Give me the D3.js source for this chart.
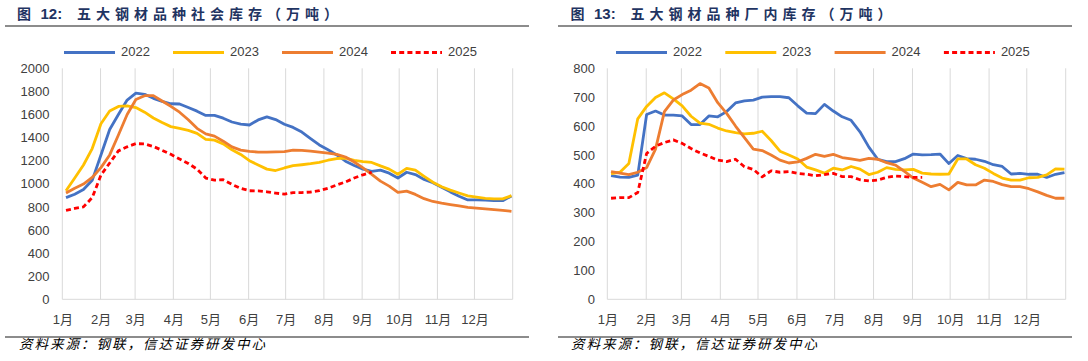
<!DOCTYPE html>
<html><head><meta charset="utf-8">
<script src="https://cdn.jsdelivr.net/npm/d3@7"></script>
<style>
html,body{margin:0;padding:0;background:#fff;}
svg{display:block;}
</style></head>
<body><svg id="c" width="1088" height="361"></svg>
<script>
const months = ["1月","2月","3月","4月","5月","6月","7月","8月","9月","10月","11月","12月"];
const years = ["2022","2023","2024","2025"];
const socialTicks = [0,200,400,600,800,1000,1200,1400,1600,1800,2000];
const factoryTicks = [0,100,200,300,400,500,600,700,800];

// 五大钢材品种社会库存（万吨），weekly
const social2022 = [880,910,950,1030,1250,1470,1600,1725,1785,1775,1740,1714,1693,1691,1660,1629,1592,1593,1568,1535,1517,1509,1553,1580,1556,1516,1488,1448,1392,1336,1294,1250,1196,1158,1127,1108,1118,1092,1050,1100,1080,1038,1010,970,930,893,860,860,858,854,854,895];
const social2023 = [940,1050,1163,1305,1520,1630,1670,1675,1660,1620,1570,1530,1495,1479,1462,1436,1385,1378,1345,1294,1254,1200,1163,1127,1115,1137,1157,1165,1174,1185,1204,1219,1222,1203,1192,1185,1155,1127,1083,1133,1118,1065,1014,975,945,920,896,884,873,869,869,898];
const social2024 = [920,962,998,1055,1140,1250,1423,1600,1730,1763,1763,1717,1671,1620,1555,1480,1432,1413,1369,1320,1292,1280,1275,1274,1276,1279,1292,1289,1282,1274,1266,1255,1232,1189,1138,1082,1023,980,925,937,908,871,847,832,820,808,796,790,783,777,770,762];
const social2025 = [770,787,800,880,1075,1180,1285,1320,1348,1345,1323,1290,1255,1215,1176,1127,1050,1032,1035,995,960,940,938,931,920,910,924,924,929,940,962,990,1016,1050,1078,1100];

// 五大钢材品种厂内库存（万吨），weekly
const factory2022 = [428,423,422,430,640,652,638,638,635,605,605,635,632,650,680,687,690,700,702,702,698,670,645,643,675,652,632,620,580,527,485,477,477,487,503,500,501,503,470,498,487,485,478,466,460,434,436,433,433,422,433,439];
const factory2023 = [435,440,470,625,668,699,715,694,670,634,610,606,593,583,577,573,575,582,550,513,500,486,458,448,437,454,448,460,451,432,440,456,450,448,450,437,434,433,434,486,486,466,454,436,420,413,413,421,422,431,452,451];
const factory2024 = [442,437,432,440,456,520,650,690,709,724,747,732,681,644,600,560,520,515,500,482,472,476,488,502,495,502,491,486,481,488,485,473,465,443,420,405,390,398,379,405,396,396,413,408,397,390,390,383,372,360,350,350];
const factory2025 = [350,352,352,370,505,530,543,552,540,522,507,495,482,477,485,459,450,424,445,440,442,436,433,428,432,436,425,425,414,410,413,422,427,425,422,422];

const colors = {"2022":"#4472C4","2023":"#FFC000","2024":"#ED7D31","2025":"#FF0000"};

const svg = d3.select("#c");
const FONT = "'Liberation Sans', Arial, 'Noto Sans CJK SC', sans-serif";
const CJK = "'Noto Sans CJK SC', 'Liberation Sans', sans-serif";

function drawChart(cfg){
  const g = svg.append("g");
  const top = 68.3, bottom = 299.3;
  const tc = "#1f3462";
  // title pieces
  const t = g.append("g").attr("fill", tc).attr("font-weight","bold").attr("font-size",14);
  t.append("text").attr("x", cfg.titleX).attr("y", 15.5).attr("dominant-baseline","middle")
    .attr("font-family", CJK).text("图");
  t.append("text").attr("x", cfg.titleX + 23.5).attr("y", 15.5).attr("dominant-baseline","middle")
    .attr("font-family", FONT).attr("font-size",15).text(cfg.figNo + ":");
  t.append("text").attr("x", cfg.titleX + 60).attr("y", 15.5).attr("dominant-baseline","middle")
    .attr("font-family", CJK).attr("letter-spacing", 5).text(cfg.title);
  g.append("line").attr("x1",cfg.ruleX[0]).attr("x2",cfg.ruleX[1])
    .attr("y1",26).attr("y2",26).attr("stroke","#1a1a1a").attr("stroke-width",1.2);

  const x = d3.scaleTime()
    .domain([new Date(2025,0,1), new Date(2026,0,1)])
    .range([cfg.left, cfg.right]);
  const xw = d3.scaleLinear().domain([0,51])
    .range([x(new Date(2025,0,4)), x(new Date(2025,11,31))]);
  const y = d3.scaleLinear().domain(cfg.yDomain).range([bottom, top]);

  // vertical gridlines at month starts
  const gridDates = d3.timeMonth.range(new Date(2025,0,1), new Date(2026,0,2));
  g.append("g").selectAll("line").data(gridDates).join("line")
    .attr("x1",d=>x(d)).attr("x2",d=>x(d))
    .attr("y1",top).attr("y2",bottom)
    .attr("stroke","#d9d9d9").attr("stroke-width",1);
  g.append("line").attr("x1",cfg.left).attr("x2",cfg.right)
    .attr("y1",bottom).attr("y2",bottom)
    .attr("stroke","#d9d9d9").attr("stroke-width",1);

  // y axis labels
  const yAxis = d3.axisLeft(y).tickValues(cfg.ticks).tickFormat(d3.format("d")).tickSize(0).tickPadding(0);
  const ya = g.append("g").attr("transform",`translate(${cfg.yLabelRight},0)`).call(yAxis);
  ya.select(".domain").remove();
  ya.selectAll("text").attr("font-family",FONT).attr("font-size",13).attr("fill","#404040");

  // x axis labels
  const xAxis = d3.axisBottom(x)
    .tickValues(d3.range(12).map(i=>new Date(2025,i,1)))
    .tickFormat((d,i)=>months[i]).tickSize(0).tickPadding(0);
  const xa = g.append("g").attr("transform",`translate(0,${315})`).call(xAxis);
  xa.select(".domain").remove();
  xa.selectAll("text").attr("font-family",FONT).attr("font-size",13).attr("fill","#404040");

  // lines
  const line = d3.line().x((d,i)=>xw(i)).y(d=>y(d));
  cfg.series.forEach((s,k)=>{
    g.append("path").datum(s).attr("d",line)
      .attr("fill","none").attr("stroke",colors[years[k]])
      .attr("stroke-width",2.8).attr("stroke-linejoin","round")
      .attr("stroke-dasharray", years[k]==="2025" ? "5,3.2" : null);
  });

  // legend
  const lg = g.append("g");
  years.forEach((yr,k)=>{
    const lx = cfg.legendX + k*cfg.legendStep;
    lg.append("line").attr("x1",lx).attr("x2",lx+51).attr("y1",52.5).attr("y2",52.5)
      .attr("stroke",colors[yr]).attr("stroke-width",2.8)
      .attr("stroke-dasharray", yr==="2025" ? "5,3.2" : null);
    lg.append("text").attr("x",lx+57).attr("y",52.5).attr("dominant-baseline","middle")
      .attr("font-family",FONT).attr("font-size",13).attr("fill","#404040").text(yr);
  });

  // source
  g.append("line").attr("x1",cfg.ruleX[0]).attr("x2",cfg.ruleX[1])
    .attr("y1",337).attr("y2",337).attr("stroke","#1a1a1a").attr("stroke-width",1.2);
  g.append("text").attr("x",cfg.sourceX).attr("y",345.5).attr("dominant-baseline","middle")
    .attr("font-family",CJK).attr("font-style","italic").attr("font-size",13.5)
    .attr("letter-spacing",2).attr("fill","#000")
    .text("资料来源：钢联，信达证券研发中心");
}

drawChart({
  figNo:"12", title:"五大钢材品种社会库存（万吨）", titleX:17,
  ruleX:[5,529], left:62.3, right:512.7, yLabelRight:49.5,
  yDomain:[0,2000], ticks:socialTicks,
  series:[social2022,social2023,social2024,social2025],
  legendX:64, legendStep:109, sourceX:19
});
drawChart({
  figNo:"13", title:"五大钢材品种厂内库存（万吨）", titleX:570.5,
  ruleX:[558,1072], left:607.3, right:1065.7, yLabelRight:595,
  yDomain:[0,800], ticks:factoryTicks,
  series:[factory2022,factory2023,factory2024,factory2025],
  legendX:616, legendStep:109.3, sourceX:571
});
</script></body></html>
